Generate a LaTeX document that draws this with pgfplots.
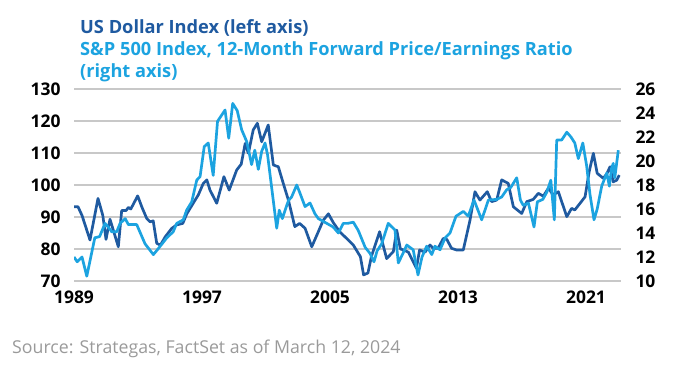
\documentclass[border=0pt]{standalone}
\usepackage{pgfplots}
\pgfplotsset{compat=1.18}
\usepackage{fontspec}
\setmainfont{Open Sans}
\definecolor{dark}{HTML}{1F5AA0}
\definecolor{light}{HTML}{1CA3E0}
\definecolor{gridc}{HTML}{C8C8C8}
\definecolor{src}{HTML}{9A9A9A}
\begin{document}
\begin{tikzpicture}
\path[use as bounding box] (0bp,0bp) rectangle (700bp,383bp);
\begin{axis}[
  at={(74bp,102bp)}, anchor=south west, scale only axis, width=547bp, height=192bp,
  xmin=1989, xmax=2023.1875, ymin=70, ymax=130,
  xtick={1989,1997,2005,2013,2021}, xticklabels={1989,1997,2005,2013,2021},
  ytick={70,80,...,130},
  axis line style={draw=none}, major tick length=0pt,
  ymajorgrids, grid style={gridc, line width=1.3bp},
  tick label style={font=\fontsize{17.5}{17.5}\selectfont\bfseries},
  /pgf/number format/assume math mode=true,
  xticklabel style={yshift=-6bp},
  yticklabel style={xshift=-10bp},
]
\addplot[dark, line width=2.7bp, line join=round, mark=none] coordinates {
(1989.0,93.2) (1989.25,93.2) (1989.5,90.5) (1990.0,82.8) (1990.5,95.8) (1990.8,90.5)
(1991.0,83.0) (1991.25,89.3) (1991.45,86) (1991.77,80.7) (1991.98,92.0) (1992.25,92.0)
(1992.4,93) (1992.55,92.5) (1992.98,96.6) (1993.25,93) (1993.55,89.5) (1993.75,88.5)
(1993.95,88.8) (1994.17,81.8) (1994.4,81.2) (1994.7,83.8) (1995.1,86.4) (1995.4,87.5)
(1995.8,88) (1996.05,91) (1996.45,94.3) (1996.77,96.9) (1997.08,100.5) (1997.3,101.6)
(1997.5,98.4) (1997.92,94.3) (1998.37,102.6) (1998.7,98.4) (1999.17,104.7) (1999.45,106.5)
(1999.7,113) (1999.9,109.9) (2000.2,117.2) (2000.46,119.3) (2000.73,113.5) (2001.14,118.75)
(2001.46,106.25) (2001.77,105.7) (2002.08,100.5) (2002.4,95.3) (2002.8,87) (2003.1,88)
(2003.44,86.5) (2003.86,80.7) (2004.27,85.4) (2004.58,89) (2004.9,91) (2005.2,88.3)
(2005.6,85.4) (2006.04,83.3) (2006.46,81.2) (2006.9,77.6) (2007.1,71.9) (2007.37,72.5)
(2007.6,77.9) (2008.1,85.4) (2008.54,77) (2008.96,79.2) (2009.17,85.9) (2009.4,80)
(2009.6,79.7) (2009.9,79) (2010.2,76) (2010.4,74) (2010.6,79.7) (2010.94,79)
(2011.25,81.25) (2011.45,80.2) (2011.75,80.2) (2012.08,83.3) (2012.3,83) (2012.6,80.2)
(2012.9,79.7) (2013.33,79.7) (2013.75,89) (2014.06,97.9) (2014.37,95.3) (2014.83,97.9)
(2015.1,94.8) (2015.42,95.3) (2015.73,101.6) (2016.14,100.5) (2016.46,93.2) (2016.98,91.1)
(2017.3,94.8) (2017.7,95.5) (2018.02,97.4) (2018.33,96.5) (2018.65,99) (2018.95,96.9)
(2019.27,97.9) (2019.8,90.1) (2020.1,92.7) (2020.3,92.2) (2020.63,94.3) (2020.94,96.3)
(2021.2,104.2) (2021.46,109.9) (2021.7,103.65) (2022.08,102.1) (2022.3,103.5) (2022.5,105.7)
(2022.7,101) (2022.92,101.5) (2023.08,103.1)
};
\end{axis}
\begin{axis}[
  at={(74bp,102bp)}, anchor=south west, scale only axis, width=547bp, height=192bp,
  xmin=1989, xmax=2023.1875, ymin=10, ymax=26,
  axis y line*=right, hide x axis,
  ytick={10,12,...,26},
  axis line style={draw=none}, major tick length=0pt,
  tick label style={font=\fontsize{17.5}{17.5}\selectfont\bfseries},
  /pgf/number format/assume math mode=true,
  yticklabel style={anchor=west, xshift=11bp},
]
\addplot[light, line width=2.7bp, line join=round, mark=none] coordinates {
(1989.0,12.0) (1989.2,11.6) (1989.5,12.0) (1989.8,10.4) (1990.3,13.6) (1990.6,13.7)
(1990.94,14.8) (1991.14,14.5) (1991.36,14.1) (1991.67,14.1) (1991.88,14.8) (1992.2,15.2)
(1992.4,14.7) (1992.92,14.7) (1993.44,13.1) (1993.96,12.2) (1994.27,12.7) (1994.8,13.6)
(1995.2,14.1) (1995.42,14.8) (1995.83,15.1) (1996.04,15.9) (1996.36,16.6) (1996.67,18.4)
(1996.88,18.7) (1997.14,21.2) (1997.39,21.5) (1997.7,18.8) (1997.97,23.3) (1998.44,24.25)
(1998.67,21.9) (1998.92,24.8) (1999.2,24.2) (1999.48,22.6) (1999.8,21.6) (2000.1,19.7)
(2000.3,20.9) (2000.52,19.3) (2000.73,20.8) (2000.94,21.5) (2001.1,20.5) (2001.67,14.4)
(2001.83,15.9) (2002.02,15.2) (2002.4,16.7) (2002.6,17.0) (2002.92,18.0) (2003.1,17.4)
(2003.44,16.2) (2003.75,16.5) (2004.06,15.6) (2004.27,15.2) (2004.8,14.8) (2005.2,14.5)
(2005.52,14.0) (2005.83,14.8) (2006.1,14.8) (2006.46,14.9) (2006.77,14.2) (2007.2,12.8)
(2007.5,12.3) (2007.75,11.6) (2007.94,12.5) (2008.23,13.1) (2008.64,14.8) (2009.06,14.25)
(2009.27,11.5) (2009.56,12.3) (2009.8,13.0) (2010.2,12.6) (2010.5,10.5) (2010.75,12.0)
(2011.04,12.9) (2011.36,12.2) (2011.56,12.9) (2011.875,12.6) (2012.2,13.6) (2012.5,14.0)
(2012.875,15.4) (2013.33,15.8) (2013.64,15.4) (2014.0,16.75) (2014.48,15.1) (2014.9,16.75)
(2015.42,16.8) (2015.73,17.0) (2016.04,17.6) (2016.3,17.8) (2016.67,18.6) (2016.9,16.75)
(2017.08,16.3) (2017.4,16.5) (2017.75,14.5) (2017.96,16.6) (2018.3,16.8) (2018.55,17.4)
(2018.8,18.4) (2019.02,15.1) (2019.17,21.75) (2019.48,21.75) (2019.8,22.4) (2020.06,22.0)
(2020.3,21.5) (2020.52,20.2) (2020.8,21.5) (2021.04,19.6) (2021.25,17.2) (2021.5,15.1)
(2021.7,16.0) (2021.98,17.9) (2022.3,19.0) (2022.46,17.9) (2022.6,19.4) (2022.7,19.8)
(2022.8,18.6) (2023.02,20.9)
};
\end{axis}
\node[anchor=base west, inner sep=0, font=\fontsize{18.3}{18.3}\selectfont\bfseries, text=dark] at (80bp,349bp) {US Dollar Index (left axis)};
\node[anchor=base west, inner sep=0, font=\fontsize{18.3}{18.3}\selectfont\bfseries, text=light] at (80bp,327bp) {S\&P 500 Index, 12-Month Forward Price/Earnings Ratio};
\node[anchor=base west, inner sep=0, font=\fontsize{18.3}{18.3}\selectfont\bfseries, text=light] at (80bp,305bp) {(right axis)};
\node[anchor=base west, inner sep=0, font=\fontsize{17.8}{17.8}\selectfont, text=src] at (12bp,30bp) {Source: Strategas, FactSet as of March 12, 2024};
\end{tikzpicture}
\end{document}
